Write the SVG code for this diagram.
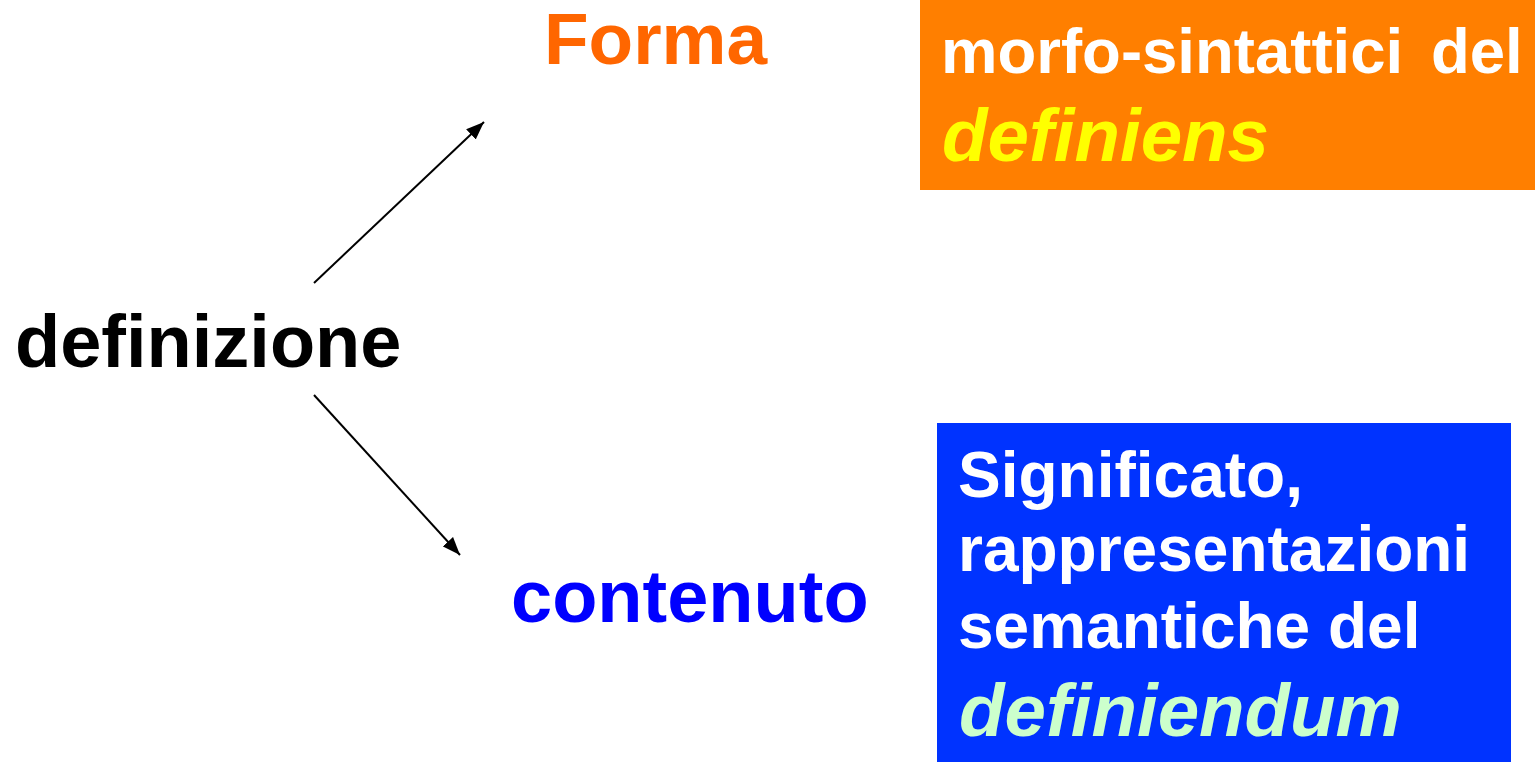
<svg xmlns="http://www.w3.org/2000/svg" width="1535" height="762" viewBox="0 0 1535 762">
<style>
.t{font-family:"Liberation Sans",Arial,sans-serif;font-weight:bold}
.i{font-style:italic}
.conn{stroke:#000;stroke-width:2;fill:none}
</style>
<defs>
<marker id="ah" viewBox="0 0 18 14" refX="18" refY="7" markerWidth="18" markerHeight="14" markerUnits="userSpaceOnUse" orient="auto">
<path d="M0,0 L18,7 L0,14 z" fill="#000"/>
</marker>
</defs>
<rect width="1535" height="762" fill="#fff"/>
<g id="connectors">
<line class="conn" x1="314" y1="283" x2="484" y2="122" marker-end="url(#ah)"/>
<line class="conn" x1="314" y1="395" x2="460" y2="555" marker-end="url(#ah)"/>
</g>
<g id="node-definizione">
<text class="t" x="15" y="367" font-size="74" fill="#000">definizione</text>
</g>
<g id="node-forma">
<text class="t" x="544" y="64" font-size="73" fill="#FF6600">Forma</text>
</g>
<g id="node-contenuto">
<text class="t" x="511" y="622" font-size="74" fill="#0000FF">contenuto</text>
</g>
<g id="node-forma-box">
<rect x="920" y="0" width="615" height="190" fill="#FF7F00"/>
<text class="t" y="73" font-size="63.5" fill="#fff"><tspan x="941">morfo-sintattici</tspan><tspan x="1431">del</tspan></text>
<text class="t i" x="942" y="161" font-size="74.5" fill="#FFFF00">definiens</text>
</g>
<g id="node-contenuto-box">
<rect x="937" y="423" width="574" height="339" fill="#0033FF"/>
<text class="t" x="958" y="497" font-size="64" fill="#fff">Significato,</text>
<text class="t" x="958" y="571" font-size="64" fill="#fff">rappresentazioni</text>
<text class="t" x="958" y="648" font-size="64" fill="#fff">semantiche del</text>
<text class="t i" x="959" y="736" font-size="74.5" fill="#CCFFCC">definiendum</text>
</g>
</svg>
